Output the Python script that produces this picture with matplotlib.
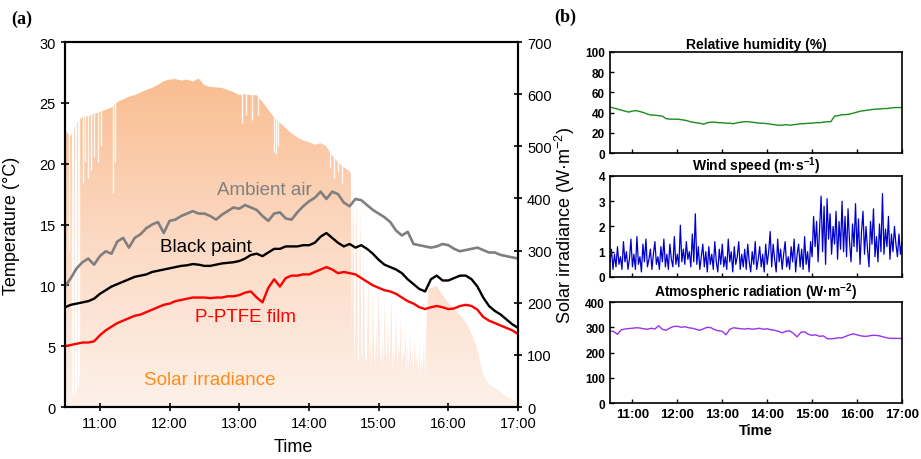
import numpy as np
import matplotlib.pyplot as plt
from matplotlib.colors import LinearSegmentedColormap

plt.rcParams['font.family'] = ['Liberation Sans', 'DejaVu Sans']
plt.rcParams['mathtext.fontset'] = 'custom'
plt.rcParams['mathtext.rm'] = 'Liberation Sans'
plt.rcParams['mathtext.bf'] = 'Liberation Sans:bold'

# ---- (a) temperatures, 5-min steps from 10:30 to 17:00 ----
t_ambient = [9.9, 10.6, 11.4, 11.9, 12.2, 11.7, 12.4, 12.8, 12.6, 13.6, 13.9, 13.1,
             13.9, 14.2, 14.7, 15.0, 15.2, 14.3, 15.3, 15.4, 15.7, 15.9, 16.1, 15.9,
             15.9, 15.7, 15.4, 15.8, 16.1, 16.4, 16.3, 16.6, 16.4, 16.2, 15.7, 15.3,
             15.9, 16.0, 15.5, 15.4, 16.0, 16.5, 16.9, 17.2, 17.7, 17.1, 17.7, 17.5,
             16.8, 16.5, 17.1, 17.0, 16.6, 16.2, 15.9, 15.6, 15.2, 14.5, 14.1, 14.4,
             13.4, 13.3, 13.2, 13.1, 13.2, 13.4, 13.3, 13.0, 12.8, 12.9, 13.0, 13.1,
             12.9, 12.7, 12.7, 12.5, 12.4, 12.3, 12.2]
t_black = [8.2, 8.4, 8.5, 8.6, 8.7, 8.9, 9.3, 9.6, 9.9, 10.1, 10.3, 10.5,
           10.7, 10.8, 10.9, 11.1, 11.2, 11.3, 11.4, 11.5, 11.6, 11.65, 11.75, 11.7,
           11.6, 11.6, 11.7, 11.8, 11.85, 11.9, 12.0, 12.2, 12.5, 12.6, 12.4, 12.7,
           13.0, 13.0, 13.2, 13.2, 13.2, 13.3, 13.3, 13.5, 14.0, 14.3, 13.9, 13.5,
           13.2, 13.4, 13.1, 13.3, 13.0, 12.6, 12.1, 11.7, 11.5, 11.3, 11.0, 10.5,
           10.1, 9.7, 9.5, 10.5, 10.8, 10.4, 10.4, 10.6, 10.8, 10.8, 10.5, 9.9,
           9.0, 8.3, 7.9, 7.6, 7.2, 6.8, 6.5]
t_ptfe = [5.0, 5.1, 5.2, 5.3, 5.3, 5.4, 5.9, 6.3, 6.6, 6.9, 7.1, 7.3,
          7.5, 7.6, 7.8, 8.0, 8.2, 8.4, 8.5, 8.7, 8.8, 8.9, 9.0, 9.0,
          9.0, 8.95, 9.0, 9.0, 9.1, 9.1, 9.2, 9.4, 9.5, 9.0, 8.6, 9.8,
          10.5, 9.9, 10.6, 10.8, 10.8, 10.9, 10.9, 11.1, 11.3, 11.5, 11.3, 11.0,
          11.1, 11.0, 10.9, 10.6, 10.3, 10.0, 9.8, 9.6, 9.5, 9.3, 9.0, 8.7,
          8.5, 8.2, 8.05, 8.2, 8.3, 8.2, 8.05, 8.1, 8.3, 8.4, 8.3, 8.0,
          7.4, 7.1, 6.9, 6.7, 6.5, 6.3, 6.0]

# ---- solar irradiance (W m-2) ----
# 10:30-14:35 every 5 min
irr_a = [530, 520, 545, 556, 558, 562, 566, 570, 574, 585, 590, 595,
         598, 603, 608, 612, 618, 625, 628, 629, 626, 628, 624, 630,
         617, 614, 613, 612, 608, 604, 598, 600, 598, 598, 585, 570,
         555, 545, 535, 525, 517, 511, 508, 503, 506, 500, 482, 470,
         460, 452]
# 14:36-15:44 every minute (cloudy)
irr_b = [448, 120, 420, 90, 150, 410, 100, 80, 380, 110,
         90, 300, 120, 80, 100, 260, 90, 130, 70, 220,
         100, 80, 150, 90, 240, 110, 80, 130, 70, 200,
         100, 90, 160, 80, 120, 210, 70, 110, 90, 180,
         75, 120, 95, 170, 70, 110, 90, 150, 60, 120,
         70, 140, 85, 110, 60, 130, 80, 100, 55, 120,
         60, 95, 70, 130, 50, 150, 200, 225, 230]
# 15:45-17:00 every 5 min
irr_c = [228, 232, 215, 200, 188, 176, 162, 140, 110, 62, 44, 36, 29, 21, 14, 8]
# short drops caused by passing clouds (hour, lowest value)
dip_hour = [10.55, 10.60, 10.62, 10.64, 10.66, 10.68, 10.70,
            10.76, 10.79, 10.83, 10.87, 10.92, 10.97, 11.02, 11.19, 11.21,
            13.04, 13.10, 13.18, 13.27, 13.50, 13.53, 13.56,
            14.30, 14.36, 14.42, 14.47]
dip_value = [300, 30, 20, 25, 30, 40, 60,
             430, 470, 440, 455, 480, 470, 500, 410, 470,
             545, 560, 550, 560, 490, 485, 500,
             460, 440, 450, 430]

# ---- (b) weather, 5-min steps ----
rh = [45.5, 44.5, 43.5, 42.5, 41.5, 40.5, 41.5, 42.0, 41.0, 40.0, 38.5, 37.5,
      37.5, 37.0, 36.5, 34.0, 33.5, 33.5, 33.5, 33.0, 32.5, 31.5, 30.5, 30.0,
      29.5, 28.5, 30.0, 30.5, 30.5, 30.0, 30.0, 29.5, 29.5, 29.0, 30.0, 30.5,
      31.0, 31.0, 30.5, 30.0, 29.5, 29.5, 29.0, 28.5, 28.0, 27.5, 27.5, 28.0,
      27.5, 28.0, 28.5, 29.0, 29.0, 29.5, 29.5, 30.0, 30.0, 30.5, 31.0, 31.0,
      36.5, 37.0, 38.0, 38.0, 38.5, 39.5, 40.5, 41.5, 42.0, 42.5, 43.0, 43.5,
      43.5, 44.0, 44.0, 44.5, 45.0, 45.0, 45.0]
atm = [286, 283, 272, 290, 293, 295, 296, 298, 297, 294, 292, 296,
       293, 306, 292, 288, 297, 303, 304, 300, 302, 298, 296, 292,
       288, 294, 300, 298, 290, 286, 284, 270, 292, 298, 296, 294,
       293, 295, 292, 294, 296, 292, 294, 290, 288, 284, 278, 284,
       286, 276, 262, 280, 282, 272, 268, 270, 264, 266, 255, 254,
       256, 258, 258, 264, 270, 274, 270, 266, 264, 265, 268, 268,
       266, 262, 258, 256, 256, 256, 255]
# wind speed, 2-min steps
wind = [0.6, 1.1, 0.3, 0.9, 0.4, 1.2, 0.5, 0.8, 0.3, 1.4, 0.6, 1.0, 0.3, 0.7, 1.5,
        0.4, 0.9, 0.3, 1.6, 0.5, 0.8, 0.2, 1.3, 0.6, 1.5, 0.4, 0.7, 1.1, 0.3, 0.9,
        1.4, 0.5, 0.8, 0.3, 1.2, 0.6, 1.5, 0.4, 0.9, 0.3, 1.3, 0.7, 0.4, 1.6, 0.5,
        0.9, 0.4, 2.05, 0.6, 1.1, 0.5, 1.4, 0.7, 1.0, 0.4, 1.7, 0.6, 2.5, 0.5, 1.2,
        0.3, 0.8, 1.3, 0.4, 1.0, 0.2, 1.2, 0.5, 0.9, 0.3, 1.4, 0.6, 0.2, 1.1, 0.5,
        1.3, 0.4, 0.8, 0.3, 1.5, 0.6, 1.0, 0.2, 1.2, 0.5, 0.8, 1.4, 0.3, 0.9, 0.4,
        1.1, 0.3, 1.3, 0.6, 0.2, 1.0, 0.5, 1.4, 0.3, 0.7, 1.2, 0.4, 0.9, 0.2, 1.3,
        0.5, 1.0, 1.8, 0.4, 1.3, 0.7, 0.2, 1.5, 0.6, 1.1, 0.3, 0.9, 1.4, 0.4, 0.8,
        0.3, 1.2, 0.6, 1.5, 0.2, 0.9, 1.3, 0.4, 1.1, 0.3, 1.6, 0.5, 1.0, 0.2, 1.4,
        0.8, 2.4, 1.2, 2.2, 0.6, 1.9, 3.2, 1.0, 2.8, 0.5, 3.1, 1.5, 2.5, 0.9, 2.0,
        1.3, 2.6, 0.7, 2.2, 1.1, 3.0, 1.0, 2.4, 0.8, 2.7, 1.4, 0.6, 2.1, 1.2, 2.9,
        1.0, 2.3, 0.5, 1.8, 2.6, 0.9, 2.0, 1.1, 0.4, 2.2, 1.3, 2.7, 0.8, 1.6, 0.6,
        2.1, 1.0, 3.3, 0.9, 1.9, 1.2, 2.4, 0.7, 1.7, 1.0, 2.0, 1.3, 0.8, 1.7, 0.9,
        1.4]

hour_ticks = [11, 12, 13, 14, 15, 16, 17]
hour_labels = ['11:00', '12:00', '13:00', '14:00', '15:00', '16:00', '17:00']

t5 = 10.5 + np.arange(79) / 12
t2 = 10.5 + np.arange(len(wind)) / 30
t_irr = np.concatenate([10.5 + np.arange(len(irr_a)) / 12,
                        14.6 + np.arange(len(irr_b)) / 60,
                        15.75 + np.arange(len(irr_c)) / 12])
irr = np.array(irr_a + irr_b + irr_c, dtype=float)

fig = plt.figure(figsize=(9.21, 4.6), dpi=100)

# ---------- panel (a) ----------
ax = fig.add_axes([0.0706, 0.113, 0.4919, 0.7935])
ax2 = ax.twinx()
ax.set_zorder(ax2.get_zorder() + 1)
ax.patch.set_visible(False)

cmap = LinearSegmentedColormap.from_list(
    'sun', [(0, '#fdf1e9'), (0.43, '#fcdbc6'), (0.9, '#f9bd91'), (1, '#f8b688')])
poly = ax2.fill_between(t_irr, irr, 0, color='none', lw=0)
grad = np.linspace(0, 1, 256).reshape(-1, 1)
img = ax2.imshow(grad, extent=[10.5, 17, 0, 700], origin='lower', aspect='auto',
                 cmap=cmap, zorder=1)
img.set_clip_path(poly.get_paths()[0], transform=ax2.transData)
ax2.vlines(dip_hour, dip_value, 700, colors='white', lw=1.0, alpha=0.9, zorder=2)
ax2.set_ylim(0, 700)
ax2.set_yticks(range(0, 701, 100))

ax.plot(t5, t_ambient, color='#7f7f7f', lw=1.9)
ax.plot(t5, t_black, color='black', lw=1.7)
ax.plot(t5, t_ptfe, color='#ff0000', lw=1.7)
ax.set_xlim(10.5, 17)
ax.set_ylim(0, 30)
ax.set_yticks(range(0, 31, 5))
ax.set_xticks(hour_ticks)
ax.set_xticklabels(hour_labels)

ax.text(12.686, 17.5, 'Ambient air', color='#7f7f7f', fontsize=13.5)
ax.text(11.857, 12.8, 'Black paint', color='black', fontsize=13.5)
ax.text(12.371, 7.07, 'P-PTFE film', color='#ff0000', fontsize=13.5)
ax.text(11.63, 1.9, 'Solar irradiance', color='#ff8c1a', fontsize=13.5)

ax.set_ylabel('Temperature (°C)', fontsize=13)
ax.yaxis.set_label_coords(-0.099, 0.5)
ax.set_xlabel('Time', fontsize=13)
ax.xaxis.set_label_coords(0.503, -0.085)
ax2.set_ylabel('Solar irradiance (W·m$^{-2}$)', fontsize=13)
ax2.yaxis.set_label_coords(1.078, 0.5)

for a in (ax, ax2):
    a.tick_params(direction='inout', length=6, width=1.2, labelsize=10.5)
    for s in a.spines.values():
        s.set_linewidth(1.5)

fig.text(0.024, 0.957, '(a)', family='Liberation Serif', fontweight='bold',
         fontsize=13, ha='center', va='center')
fig.text(0.614, 0.962, '(b)', family='Liberation Serif', fontweight='bold',
         fontsize=13, ha='center', va='center')

# ---------- panel (b) ----------
bl = 0.6623
bw = 0.3170
bh = 0.2196
panels = [
    (0.6652, t5, rh, '#1a8c1a', 'Relative humidity (%)', (0, 100), range(0, 101, 20)),
    (0.3957, t2, wind, '#0000cc', r'Wind speed (m·s$^{\mathbf{-1}}$)', (0, 4), range(0, 5)),
    (0.1217, t5, atm, '#9933ee', r'Atmospheric radiation (W·m$^{\mathbf{-2}}$)', (0, 400),
     range(0, 401, 100)),
]
for i, (bot, tx, vals, col, title, ylim, yt) in enumerate(panels):
    b = fig.add_axes([bl, bot, bw, bh])
    b.plot(tx, vals, color=col, lw=0.9 if i == 1 else 1.0)
    b.set_xlim(10.5, 17)
    b.set_ylim(*ylim)
    b.set_yticks(list(yt))
    b.set_xticks(hour_ticks)
    b.set_title(title, fontsize=10, fontweight='bold', pad=3)
    b.tick_params(direction='in', length=3, width=1, labelsize=8.5)
    b.tick_params(axis='x', labelsize=9.5)
    for lab in b.get_yticklabels():
        lab.set_fontweight('bold')
    for s in b.spines.values():
        s.set_linewidth(1.2)
    if i == 2:
        b.set_xticklabels(hour_labels, fontweight='bold')
        b.set_xlabel('Time', fontsize=10.5, fontweight='bold', labelpad=0)
        b.xaxis.set_label_coords(0.5, -0.2)
    else:
        b.set_xticklabels([])

fig.savefig('out.png', dpi=100)
